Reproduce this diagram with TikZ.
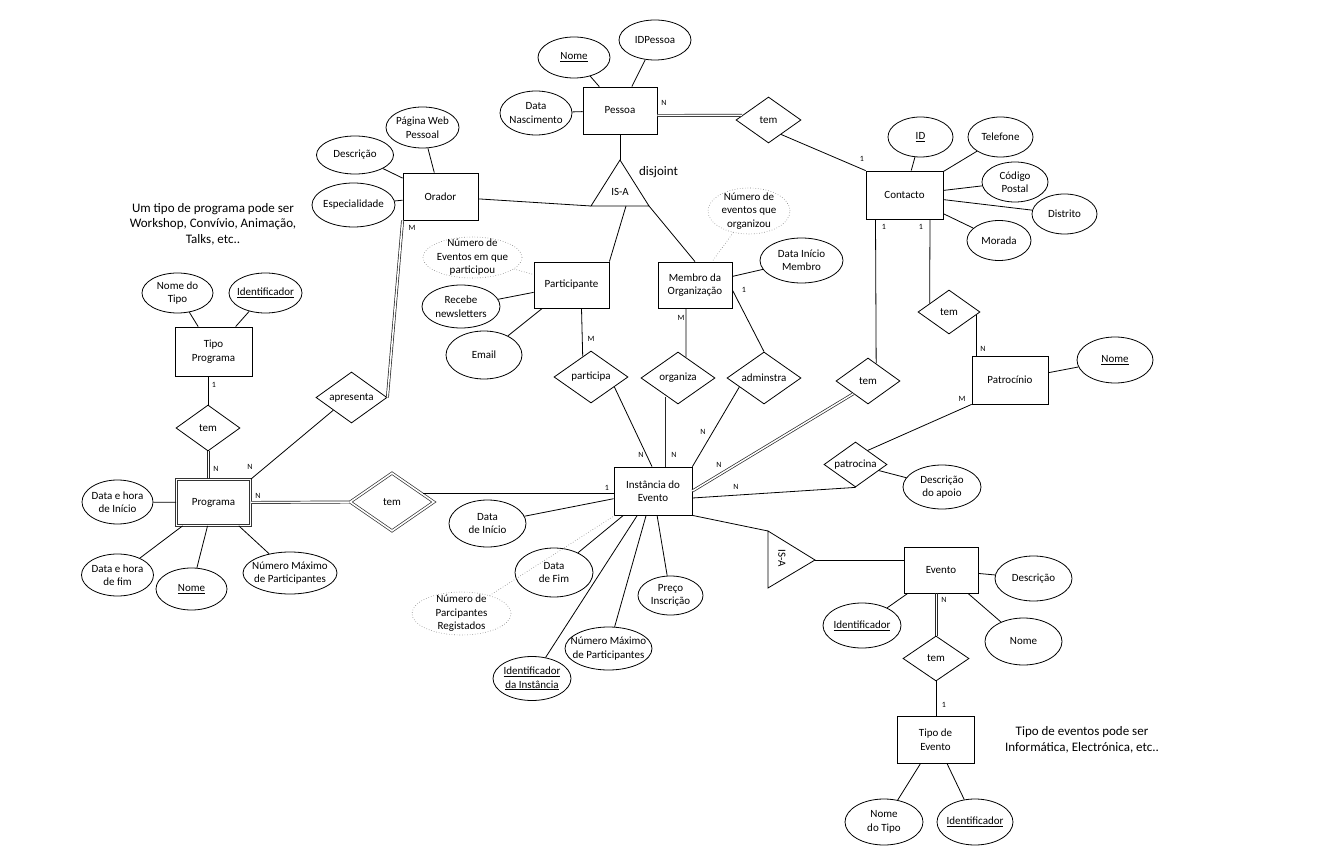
\documentclass[tikz,border=0pt]{standalone}
\usepackage{fontspec}
\setmainfont{Carlito}
\usetikzlibrary{shapes.geometric}
\begin{document}
\begin{tikzpicture}[x=1pt,y=-1pt,
 lw/.style={line width=0.8pt},
 every node/.style={font=\fontsize{11}{13.5}\selectfont, align=center, text=black},
 sz/.style 2 args={minimum width=#1pt, minimum height=#2pt},
 ent/.style={draw, lw, rectangle, inner sep=0pt},
 att/.style={draw, lw, ellipse, inner sep=-12pt},
 datt/.style={draw=gray, line width=0.6pt, dotted, ellipse, inner sep=-12pt},
 rel/.style={draw, lw, diamond, aspect=1.45, inner sep=0pt},
 dbl/.style={double, double distance=1.6pt, line width=0.7pt, draw=black!80},
 dlink/.style={double, double distance=1.5pt, line width=0.7pt, draw=black!85},
 twin/.style={line width=0.7pt, draw=black!85},
 plink/.style={draw=gray, line width=0.6pt, dotted},
 card/.style={font=\fontsize{8}{9}\selectfont, inner sep=0pt},
 note/.style={font=\fontsize{13}{15.5}\selectfont},
]
\fill[white] (0,0) rectangle (1331,850);
\useasboundingbox (0,0) rectangle (1331,850);

% ---------- Pessoa
\node[ent, sz={74}{47}] (pessoa) at (620,110.5) {Pessoa};
\node[att, sz={72}{41}] (pnome) at (574,57.5) {\underline{Nome}};
\node[att, sz={72}{40}] (pid) at (655,40) {IDPessoa};
\node[att, sz={72}{44}] (pdata) at (536,113) {Data\\Nascimento};
\node[rel, sz={65}{46}] (tem1) at (768.5,120) {tem};

% ---------- IS-A top
\coordinate (isatop) at (620,160);
\coordinate (isaleft) at (591,206);
\coordinate (isaright) at (649,206);
\coordinate (isamid) at (626,206);
\draw[lw] (isatop) -- (isaleft) -- (isaright) -- cycle;
\node (isatxt) at (620,192) {IS-A};
\node[note] (disj) at (658.5,172) {disjoint};

% ---------- Orador
\node[ent, sz={75}{47}] (orador) at (440.5,196.5) {Orador};
\node[att, sz={73}{41}] (opag) at (422.5,127.5) {Página Web\\Pessoal};
\node[att, sz={77}{38}] (odesc) at (355,155) {Descrição};
\node[att, sz={83}{44}] (oesp) at (353.5,205) {Especialidade};

% ---------- Participante
\node[ent, sz={75}{46}] (part) at (571.5,285) {Participante};
\node[datt, sz={99}{41}] (pnum) at (472.5,257.5) {Número de\\Eventos em que\\participou};
\node[att, sz={78}{43}] (prec) at (461,306.5) {Recebe\\newsletters};
\node[att, sz={76}{48}] (pemail) at (484,355) {Email};

% ---------- Membro
\node[ent, sz={74}{46}] (membro) at (695,285) {Membro da\\Organização};
\node[datt, sz={82}{46}] (mnum) at (749,211) {Número de\\eventos que\\organizou};
\node[att, sz={83}{45}] (mdata) at (801.5,260.5) {Data Início\\Membro};

% ---------- Contacto
\node[ent, sz={77}{48}] (contacto) at (904.5,195) {Contacto};
\node[att, sz={65}{40}] (cid) at (920.5,137) {\underline{ID}};
\node[att, sz={65}{40}] (ctel) at (1000.5,137) {Telefone};
\node[att, sz={66}{40}] (ccod) at (1015,182) {Código\\Postal};
\node[att, sz={65}{40}] (cdis) at (1064.5,214) {Distrito};
\node[att, sz={64}{40}] (cmor) at (999,240.5) {Morada};

% ---------- Relationships
\node[rel, sz={74}{52}] (participa) at (591,377) {participa};
\node[rel, sz={74}{52}] (organiza) at (678,378) {organiza};
\node[rel, sz={74}{52}] (adminstra) at (764,378) {adminstra};
\node[rel, sz={64}{46}] (tem4) at (868,381) {tem};
\node[rel, sz={62}{44}] (tem5) at (949,312) {tem};
\node[rel, sz={71}{51}] (apresenta) at (351.5,397.5) {apresenta};

% ---------- Patrocinio
\node[ent, sz={76}{48}] (patro) at (1010,380) {Patrocínio};
\node[att, sz={76}{46}] (patnome) at (1115,360) {\underline{Nome}};
\node[rel, sz={63}{45}] (patrocina) at (855.5,464.5) {patrocina};
\node[att, sz={78}{44}] (pdesc) at (942,487) {Descrição\\do apoio};

% ---------- Instancia
\node[ent, sz={78}{48}] (inst) at (653,491) {Instância do\\Evento};
\node[att, sz={77}{47}] (idi) at (487.5,523.5) {Data\\de Início};
\node[att, sz={78}{49}] (idf) at (554,572.5) {Data\\de Fim};
\node[datt, sz={99}{43}] (ireg) at (461.5,613.5) {Número de\\Parcipantes\\Registados};
\node[att, sz={78}{44}] (iid) at (532,678.5) {\underline{Identificador}\\\underline{da Instância}};
\node[att, sz={87}{43}] (imax) at (608.5,648.5) {Número Máximo\\de Participantes};
\node[att, sz={65}{39}] (ipre) at (670.5,595.5) {Preço\\Inscrição};

% ---------- Programa
\node[ent, dbl, sz={74}{46}] (programa) at (213.5,502.5) {Programa};
\node[rel, dbl, sz={84}{58}] (tem2) at (392,502) {tem};
\node[rel, sz={64}{46}] (tem3) at (208,428) {tem};
\node[ent, sz={77}{49}] (tipoprog) at (213.5,351.5) {Tipo\\Programa};
\node[att, sz={71}{40}] (tpnome) at (177.5,293) {Nome do\\Tipo};
\node[att, sz={73}{40}] (tpid) at (265.5,293) {\underline{Identificador}};
\node[att, sz={71}{44}] (prini) at (117.5,502) {Data e hora\\de Início};
\node[att, sz={72}{42}] (prfim) at (117.5,575) {Data e hora\\de fim};
\node[att, sz={71}{42}] (prnome) at (191.5,589) {\underline{Nome}};
\node[att, sz={94}{42}] (prmax) at (290,573) {Número Máximo\\de Participantes};

% ---------- Evento
\coordinate (isb1) at (768,531);
\coordinate (isb2) at (768,588);
\coordinate (isbap) at (815,560);
\draw[lw] (isb1) -- (isbap) -- (isb2) -- cycle;
\node[rotate=-90] (isbtxt) at (782,558) {IS-A};
\node[ent, sz={74}{46}] (evento) at (941,570) {Evento};
\node[att, sz={77}{45}] (edesc) at (1033.5,578.5) {Descrição};
\node[att, sz={78}{45}] (eid) at (862,625.5) {\underline{Identificador}};
\node[att, sz={77}{47}] (enome) at (1023.5,641.5) {Nome};
\node[rel, sz={66}{45}] (tem6) at (936,658.5) {tem};
\node[ent, sz={77}{47}] (tipoev) at (935.5,739.5) {Tipo de\\Evento};
\node[att, sz={78}{46}] (tenome) at (884,822) {Nome\\do Tipo};
\node[att, sz={76}{46}] (teid) at (975,822) {\underline{Identificador}};

% ---------- Notes
\node[note] (note1) at (213,224) {Um tipo de programa pode ser\\Workshop, Convívio, Animação,\\Talks, etc..};
\node[note] (note2) at (1082,740) {Tipo de eventos pode ser\\Informática, Electrónica, etc..};

% ---------- Connectors
\draw[lw] (pnome) -- (pessoa);
\draw[lw] (pid) -- (pessoa);
\draw[lw] (pdata) -- (pessoa);
\draw[dlink] ([yshift=-5pt]pessoa.east) -- (tem1.170);
\draw[lw] (tem1.-49) -- (contacto.north west);
\draw[lw] (pessoa) -- (isatop);
\draw[lw] (orador) -- (isaleft);
\draw[lw] (isamid) -- (part.north east);
\draw[lw] (isaright) -- (membro.north);

\draw[lw] (opag) -- (orador);
\draw[lw] (odesc) -- (orador);
\draw[lw] (oesp) -- (orador);
\draw[dlink] (orador.south west) -- (apresenta.east);
\draw[lw] (apresenta.215) -- (programa.north east);

\draw[plink] (pnum) -- (part);
\draw[lw] (prec) -- (part);
\draw[lw] (pemail) -- (part);
\draw[lw] ([xshift=10pt]part.south) -- (participa.112);
\draw[lw] (participa.-23) -- ([xshift=-1pt]inst.north);

\draw[plink] (mnum) -- (membro);
\draw[lw] (mdata) -- (membro);
\draw[lw] ([xshift=-9pt]membro.south) -- (organiza.69);
\draw[dlink] (organiza.239) -- (organiza.239 |- inst.north);
\draw[lw] ([yshift=-5pt]membro.east) -- (adminstra.north);
\draw[lw] (adminstra.200) -- (inst.north east);

\draw[lw] (cid) -- (contacto);
\draw[lw] (ctel) -- (contacto);
\draw[lw] (ccod) -- (contacto);
\draw[lw] (cdis) -- (contacto);
\draw[lw] (cmor) -- (contacto);
\draw[lw] ([xshift=-29pt]contacto.south) -- (tem4.65);
\draw[dlink] (tem4.221) -- (inst.east);
\draw[lw] ([xshift=25.5pt]contacto.south) -- (tem5.156);
\draw[lw] (tem5.-6) -- (tem5.-6 |- patro.north);

\draw[lw] (patnome) -- (patro);
\draw[lw] (patrocina.49) -- (patro.south west);
\draw[lw] ([yshift=-7pt]inst.east) -- (patrocina.south);
\draw[lw] (patrocina) -- (pdesc);

\draw[lw] (idi) -- (inst);
\draw[lw] (idf) -- (inst);
\draw[plink] (ireg) -- (inst);
\draw[lw] (iid) -- (inst);
\draw[lw] (imax) -- (inst);
\draw[lw] (ipre) -- (inst);
\draw[lw] (inst.south east) -- (isb1);
\draw[lw] (isbap) -- (isbap -| evento.west);

\draw[dlink] (programa.east) -- (tem2.west);
\draw[lw] (tem2.15) -- (tem2.15 -| inst.west);
\draw[lw] (tem3.north) -- (tem3.north |- tipoprog.south);
\draw[twin] ([xshift=-1.1pt]tem3.south) -- ([xshift=-6.6pt]programa.north);
\draw[twin] ([xshift=1.1pt]tem3.south) -- ([xshift=-4.4pt]programa.north);
\draw[lw] (tpnome) -- (tipoprog);
\draw[lw] (tpid) -- (tipoprog);
\draw[lw] (prini) -- (programa);
\draw[lw] (prfim) -- (programa);
\draw[lw] (prnome) -- (programa);
\draw[lw] (prmax) -- (programa);

\draw[lw] (edesc) -- (evento);
\draw[lw] (eid) -- (evento);
\draw[lw] (enome) -- (evento);
\draw[twin] ([xshift=-6.1pt]evento.south) -- ([xshift=-1.1pt]tem6.north);
\draw[twin] ([xshift=-3.9pt]evento.south) -- ([xshift=1.1pt]tem6.north);
\draw[lw] (tem6.south) -- (tem6.south |- tipoev.north);
\draw[lw] (tenome) -- (tipoev);
\draw[lw] (teid) -- (tipoev);

% ---------- Cardinalities
\node[card] (c1) at (664,103) {N};
\node[card] (c2) at (862,159) {1};
\node[card] (c3) at (884,227) {1};
\node[card] (c4) at (921,227) {1};
\node[card] (c5) at (412,228) {M};
\node[card] (c6) at (591,339) {M};
\node[card] (c7) at (681,318) {M};
\node[card] (c8) at (744,290) {1};
\node[card] (c9) at (641,455) {N};
\node[card] (c10) at (674,455) {N};
\node[card] (c11) at (703,432) {N};
\node[card] (c12) at (719,465) {N};
\node[card] (c13) at (736,487) {N};
\node[card] (c14) at (962,399) {M};
\node[card] (c15) at (983,349) {N};
\node[card] (c16) at (607,488) {1};
\node[card] (c17) at (258,496) {N};
\node[card] (c18) at (216,469) {N};
\node[card] (c19) at (250,467) {N};
\node[card] (c20) at (214,385) {1};
\node[card] (c21) at (944,600) {N};
\node[card] (c22) at (944,705) {1};
\end{tikzpicture}
\end{document}
